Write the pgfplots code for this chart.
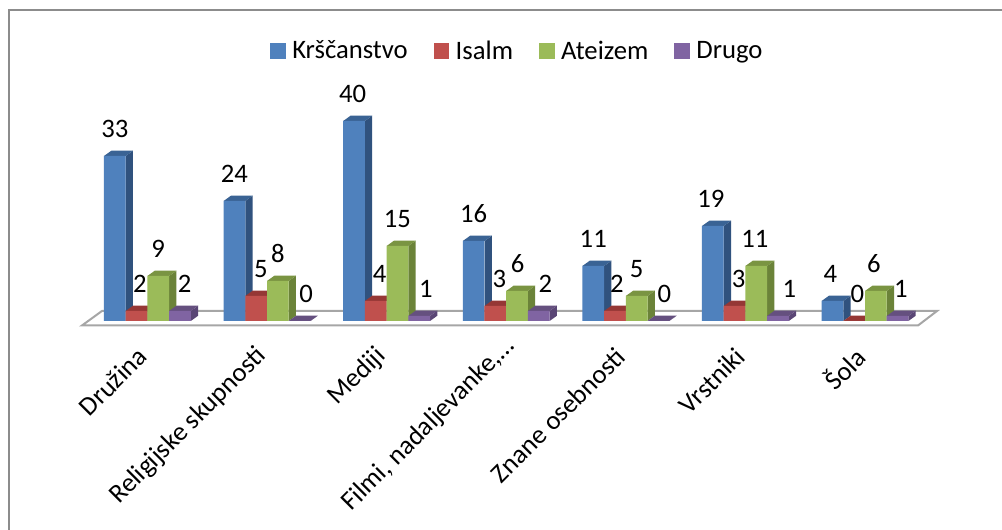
\documentclass[border=0pt]{standalone}
\usepackage{fontspec}
\setmainfont{Carlito}
\usepackage{pgfplots}
\usepackage{pgfplotstable}
\pgfplotsset{compat=1.18}

\definecolor{cblue}{HTML}{4F81BD}\definecolor{cblueS}{HTML}{30527E}\definecolor{cblueT}{HTML}{3A6394}
\definecolor{cred}{HTML}{C0504D}\definecolor{credS}{HTML}{8A3533}\definecolor{credT}{HTML}{953735}
\definecolor{cgreen}{HTML}{9BBB59}\definecolor{cgreenS}{HTML}{6B8339}\definecolor{cgreenT}{HTML}{7A9442}
\definecolor{cpurple}{HTML}{8064A2}\definecolor{cpurpleS}{HTML}{5A4675}\definecolor{cpurpleT}{HTML}{65507F}

% x group, value, label shift in pt
\pgfplotstableread{
x krs dk
0 33 0
1 24 0
2 40 -1
3 16 0
4 11 0
5 19 -1.5
6 4 -1.5
}\krs
\pgfplotstableread{
x isl dk
0 2 2.5
1 5 3.5
2 4 3
3 3 3
4 2 1.5
5 3 3
6 0 2.5
}\isl
\pgfplotstableread{
x ate dk
0 9 0
1 8 0
2 15 0
3 6 0.5
4 5 0
5 11 -1
6 6 -1.5
}\ate
\pgfplotstableread{
x dru dk
0 2 3.5
1 0 5
2 1 5
3 2 5
4 0 4.5
5 1 8.5
6 1 2.5
}\dru

% side and top face of one bar: group, series slot, value, side colour, top colour
\newcommand{\depthfaces}[5]{%
  \pgfmathsetmacro\xa{#1+(#2)*0.18144}%
  \pgfmathsetmacro\xb{\xa+0.18144}%
  \pgfmathsetmacro\xc{\xb+0.061}%
  \pgfmathsetmacro\xd{\xa+0.061}%
  \pgfmathsetmacro\yt{#3+1.05}%
  \addplot[forget plot,fill=#4,draw=none] coordinates {(\xb,0) (\xc,1.05) (\xc,\yt) (\xb,#3)} --cycle;
  \addplot[forget plot,fill=#5,draw=none] coordinates {(\xa,#3) (\xb,#3) (\xc,\yt) (\xd,\yt)} --cycle;
}

\pgfplotsset{
  frontbar/.style={
    ybar, draw=none, bar width=16.28pt, bar shift=#1,
    visualization depends on={\thisrow{dk}\as\dk},
    nodes near coords,
    every node near coord/.append style={font=\fontsize{20}{22}\selectfont,color=black,anchor=center,yshift=20.5pt,xshift={\dk pt+(#1)}},
  },
}

\begin{document}
\begin{tikzpicture}
\useasboundingbox (0,0) rectangle (751.5pt,397.5pt);
\draw[color=black!45,line width=1.5pt] (6.5pt,-5pt) -- (6.5pt,390pt) -- (760pt,390pt);
\begin{axis}[
    at={(0pt,150pt)}, anchor=south west,
    scale only axis,
    width=751.5pt, height=247.5pt,
    xmin=-1.2324, xmax=7.1455,
    ymin=-1.8, ymax=64.2,
    clip=false,
    axis line style={draw=none},
    major tick length=0pt,
    ytick=\empty,
    /pgf/number format/assume math mode=true,
    xtick={0,1,2,3,4,5,6},
    xticklabels={Družina,Religijske skupnosti,Mediji,{Filmi, nadaljevanke,…\kern-10pt},Znane osebnosti,Vrstniki,Šola},
    xticklabel style={rotate=45,anchor=east,font=\fontsize{20}{22}\selectfont,xshift=-11pt,yshift=-9.1pt},
    legend style={
        at={(axis cs:-1.2324,54)},anchor=west,xshift=199.5pt,
        draw=none,fill=none,font=\fontsize{20}{22}\selectfont,
        legend columns=-1,
        /tikz/every even column/.append style={column sep=17.5pt},
    },
    legend image code/.code={\fill[#1,draw=none] (0pt,-5.8pt) rectangle (11.6pt,5.8pt); \path[draw=none,fill=none] (0pt,0pt) rectangle (14.5pt,1pt);},
]
\addplot[forget plot,fill=white,draw=black!35,line width=1.5pt] coordinates {(-0.547,-0.9) (6.443,-0.9) (6.602,2) (-0.380,2)} --cycle;

\pgfplotsforeachungrouped \g/\v in {0/33,1/24,2/40,3/16,4/11,5/19,6/4}{\depthfaces{\g}{-2}{\v}{cblueS}{cblueT}}
\addplot[frontbar=-24.42pt,fill=cblue] table[x=x,y=krs]{\krs};
\pgfplotsforeachungrouped \g/\v in {0/2,1/5,2/4,3/3,4/2,5/3,6/0}{\depthfaces{\g}{-1}{\v}{credS}{credT}}
\addplot[frontbar=-8.14pt,fill=cred] table[x=x,y=isl]{\isl};
\pgfplotsforeachungrouped \g/\v in {0/9,1/8,2/15,3/6,4/5,5/11,6/6}{\depthfaces{\g}{0}{\v}{cgreenS}{cgreenT}}
\addplot[frontbar=8.14pt,fill=cgreen] table[x=x,y=ate]{\ate};
\pgfplotsforeachungrouped \g/\v in {0/2,1/0,2/1,3/2,4/0,5/1,6/1}{\depthfaces{\g}{1}{\v}{cpurpleS}{cpurpleT}}
\addplot[frontbar=24.42pt,fill=cpurple] table[x=x,y=dru]{\dru};
\legend{Krščanstvo,Isalm,Ateizem,Drugo}
\end{axis}
\end{tikzpicture}
\end{document}
